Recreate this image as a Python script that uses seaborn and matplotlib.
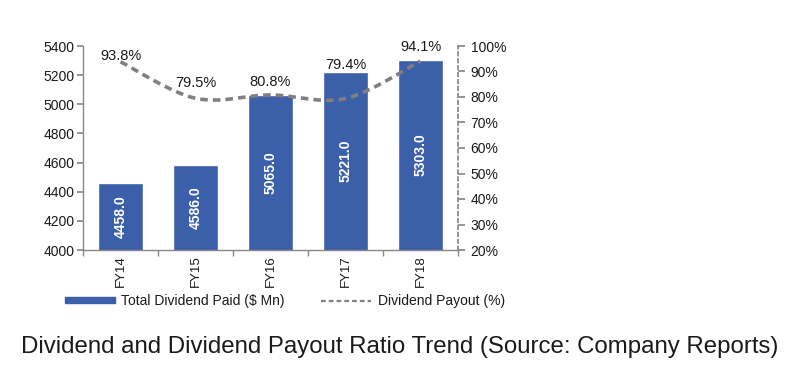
import matplotlib
matplotlib.use("Agg")
import matplotlib.pyplot as plt
import seaborn as sns
import pandas as pd
import numpy as np
from matplotlib.path import Path
from matplotlib.patches import PathPatch
from matplotlib.lines import Line2D
from matplotlib.patches import Patch

categories = ["FY14", "FY15", "FY16", "FY17", "FY18"]
dividend_paid = [4458.0, 4586.0, 5065.0, 5221.0, 5303.0]
payout_pct = [93.8, 79.5, 80.8, 79.4, 94.1]
left_ticks = [4000, 4200, 4400, 4600, 4800, 5000, 5200, 5400]
right_ticks = [20, 30, 40, 50, 60, 70, 80, 90, 100]

# label offsets above the line points (points), style only
label_offsets = [4.5, 11, 9, 24, 10]

sns.set_theme(style="white")
plt.rcParams['font.family'] = ['Liberation Sans', 'DejaVu Sans']

BAR = "#3C5FA9"
GREY = "#808080"
TXT = "#1a1a1a"
DASH = (0, (2.1, 1.4))

fig = plt.figure(figsize=(7.87, 3.70), dpi=100)
ax = fig.add_axes([83/787, 1-250/370, 375/787, 204/370])

df = pd.DataFrame({"cat": categories, "val": dividend_paid})
sns.barplot(data=df, x="cat", y="val", color=BAR, saturation=1, width=0.61, ax=ax)
ax.set_ylim(4000, 5400)
ax.set_xlim(-0.5, len(categories) - 0.5)
ax.set_yticks(left_ticks)
ax.set_yticklabels([str(t) for t in left_ticks], fontsize=10, color=TXT)
ax.set_xlabel("")
ax.set_ylabel("")
ax.set_xticks(range(len(categories)))
ax.set_xticklabels(categories, rotation=90, fontsize=9.5, color=TXT)
ax.set_xticks(np.arange(-0.5, len(categories)), minor=True)
ax.tick_params(axis="x", which="major", length=0, pad=4)
ax.tick_params(axis="x", which="minor", length=4, color="#888888", direction="out", bottom=True)
ax.tick_params(axis="y", length=4, color="#888888", direction="out", left=True, pad=2)
for s in ["top", "right"]:
    ax.spines[s].set_visible(False)
ax.spines["left"].set_color("#888888")
ax.spines["bottom"].set_color("#888888")
ax.spines["left"].set_linewidth(1)
ax.spines["bottom"].set_linewidth(1)

for i, v in enumerate(dividend_paid):
    ax.text(i, (4000 + v) / 2, f"{v:.1f}", rotation=90, ha="center", va="center",
            color="white", fontsize=10, fontweight="bold")

ax2 = ax.twinx()
ax2.set_ylim(20, 100)
ax2.set_yticks(right_ticks)
ax2.set_yticklabels([f"{t}%" for t in right_ticks], fontsize=10, color=TXT)
for s in ["top", "left", "bottom"]:
    ax2.spines[s].set_visible(False)
ax2.spines["right"].set_linestyle((0, (2, 2)))
ax2.spines["right"].set_color("#888888")
ax2.tick_params(axis="y", length=5, color="#888888", direction="out", right=True, pad=4)

# smoothed line (Catmull-Rom -> cubic Bezier), drawn in data coordinates
xs = np.arange(len(payout_pct), dtype=float)
ys = np.array(payout_pct, dtype=float)
verts = [(xs[0], ys[0])]
codes = [Path.MOVETO]
t = 1 / 6
for i in range(len(xs) - 1):
    p0 = (xs[max(i - 1, 0)], ys[max(i - 1, 0)])
    p1 = (xs[i], ys[i])
    p2 = (xs[i + 1], ys[i + 1])
    p3 = (xs[min(i + 2, len(xs) - 1)], ys[min(i + 2, len(xs) - 1)])
    c1 = (p1[0] + (p2[0] - p0[0]) * t, p1[1] + (p2[1] - p0[1]) * t)
    c2 = (p2[0] - (p3[0] - p1[0]) * t, p2[1] - (p3[1] - p1[1]) * t)
    verts += [c1, c2, p2]
    codes += [Path.CURVE4] * 3
patch = PathPatch(Path(verts, codes), facecolor="none", edgecolor=GREY,
                  linewidth=2.6, linestyle=DASH, capstyle="butt")
ax2.add_patch(patch)
ax2.set_xlim(-0.5, len(categories) - 0.5)

for i, p in enumerate(payout_pct):
    ax2.annotate(f"{p}%", (i, p), xytext=(0, label_offsets[i]), textcoords="offset points",
                 ha="center", va="center", fontsize=10.5, color=TXT)

handles = [Patch(facecolor=BAR, edgecolor=BAR),
           Line2D([0], [0], color=GREY, linestyle=DASH, linewidth=1.6)]
fig.legend(handles, ["Total Dividend Paid ($ Mn)", "Dividend Payout (%)"],
           loc="center left", bbox_to_anchor=(52/787, 1-301/370), ncol=2, frameon=False,
           fontsize=10, handlelength=3.6, handleheight=0.3, columnspacing=2.6, handletextpad=0.5,
           labelcolor=TXT)

fig.text(400/787, 1-347/370, "Dividend and Dividend Payout Ratio Trend (Source: Company Reports)",
         ha="center", va="center", fontsize=17.3, color=TXT)

fig.savefig("out.png", dpi=100)
